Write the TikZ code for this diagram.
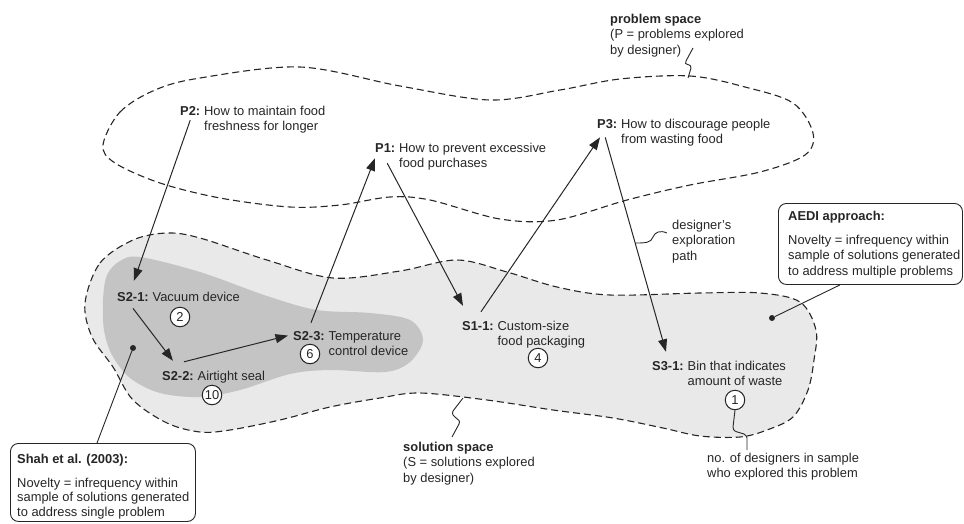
\documentclass[tikz,border=0pt]{standalone}
\usepackage{fontspec}
\setmainfont{Liberation Sans}
\usetikzlibrary{calc,arrows.meta}
\definecolor{lightfill}{RGB}{233,233,233}
\definecolor{darkfill}{RGB}{196,196,196}
\definecolor{ink}{RGB}{38,38,38}
\newcommand\twoln[2]{\begin{tabular}[t]{@{}l@{}}#1\\#2\end{tabular}}
\newcommand\threeln[3]{\begin{tabular}[t]{@{}l@{}}#1\\#2\\#3\end{tabular}}
\begin{document}
\begin{tikzpicture}[x=1pt,y=-1pt,
  lbl/.style={font=\fontsize{12.9}{15.5}\selectfont, text=ink, inner sep=0pt, anchor=base west},
  tagl/.style={lbl, font=\fontsize{12.9}{15.5}\selectfont\bfseries},
  cnt/.style={circle, draw=ink, line width=1pt, fill=white, minimum size=19.5pt, inner sep=0pt, font=\fontsize{12.9}{15.5}\selectfont, text=ink},
  arr/.style={draw=ink, line width=1pt, -{Triangle[length=12.5pt,width=9pt]}},
  lead/.style={draw=ink, line width=0.9pt},
  bound/.style={draw=ink, line width=1.1pt, dash pattern=on 7pt off 4pt},
  dotn/.style={circle, fill=ink, inner sep=0pt, minimum size=6pt},
  box/.style={draw=ink, line width=0.9pt, rounded corners=8pt, fill=white, inner sep=0pt}
]
\useasboundingbox (0,0) rectangle (964,523);

% solution space
\path[fill=lightfill, bound] plot[smooth cycle, tension=0.55] coordinates {
 (85,303) (100,263) (133,240) (167,233) (200,238) (267,260) (333,278) (400,271)
 (457,260) (507,272) (557,287) (610,295) (700,293) (760,293) (800,302) (816,330)
 (814,360) (808,390) (793,417) (767,430) (740,437) (700,436) (663,428) (613,418)
 (553,410) (487,400) (420,393) (380,398) (330,407) (280,420) (230,430) (200,432)
 (167,423) (133,400) (113,367) (92,337)};

% dark region
\fill[darkfill] plot[smooth cycle, tension=0.55] coordinates {
 (103,300) (107,275) (120,261) (140,257) (200,272) (267,296) (317,310) (370,313)
 (410,320) (423,340) (410,362) (385,372) (330,370) (290,374) (240,390) (200,397)
 (160,393) (130,378) (112,355) (104,330)};

% problem space
\draw[bound] plot[smooth cycle, tension=0.55] coordinates {
 (103,145) (120,112) (155,90) (200,78) (300,67) (400,86) (490,100) (560,90)
 (620,79) (690,76) (745,87) (793,103) (813,133) (805,155) (760,172) (690,185)
 (627,200) (557,220) (500,219) (430,200) (390,197) (340,205) (290,207) (220,198)
 (160,183) (115,163)};

% labels: tags
\node[tagl] (P2) at (180,115) {P2:};
\node[lbl] (P2t) at ($(P2.base east)+(3.5,0)$) {\twoln{How to maintain food}{freshness for longer}};
\node[tagl] (P1) at (375,152) {P1:};
\node[lbl] (P1t) at ($(P1.base east)+(3.5,0)$) {\twoln{How to prevent excessive}{food purchases}};
\node[tagl] (P3) at (597,128) {P3:};
\node[lbl] (P3t) at ($(P3.base east)+(3.5,0)$) {\twoln{How to discourage people}{from wasting food}};
\node[tagl] (S21) at (117,301) {S2-1:};
\node[lbl] (S21t) at ($(S21.base east)+(3.5,0)$) {Vacuum device};
\node[tagl] (S22) at (162,380) {S2-2:};
\node[lbl] (S22t) at ($(S22.base east)+(3.5,0)$) {Airtight seal};
\node[tagl] (S23) at (293,340) {S2-3:};
\node[lbl] (S23t) at ($(S23.base east)+(3.5,0)$) {\twoln{Temperature}{control device}};
\node[tagl] (S11) at (462,330) {S1-1:};
\node[lbl] (S11t) at ($(S11.base east)+(3.5,0)$) {\twoln{Custom-size}{food packaging}};
\node[tagl] (S31) at (652,370) {S3-1:};
\node[lbl] (S31t) at ($(S31.base east)+(3.5,0)$) {\twoln{Bin that indicates}{amount of waste}};

% exploration path arrows
\draw[arr] ($(P2.south)+(0,5)$) -- ($(S21.north)+(1,-11)$);
\draw[arr] ($(S21.south)+(0,7)$) -- ($(S22.north)+(-5,-10)$);
\draw[arr] ($(S22.north)+(6,-9)$) -- ($(S23.west)+(-5,0)$);
\draw[arr] ($(S23.north)+(2,-8)$) -- ($(P1.south west)+(0,6)$);
\draw[arr] ($(P1.south)+(2,11)$) -- ($(S11.north west)+(1,-15)$);
\draw[arr] ($(S11.north)+(3,-9)$) -- ($(P3.south west)+(3,9)$);
\draw[arr] ($(P3.south)+(-2,9)$) -- ($(S31.north)+(-2,-9)$);

% counts
\node[cnt] (c2) at (180,317) {2};
\node[cnt] (c10) at (212,395) {10};
\node[cnt] (c6) at (310,354) {6};
\node[cnt] (c4) at (538,358) {4};
\node[cnt] (c1) at (735,400) {1};

% annotation labels
\node[lbl] (ps) at (610,23) {\threeln{\textbf{problem space}}{(P = problems explored}{by designer)}};
\coordinate (psend) at (688,78);
\draw[lead] ($(ps.base west)+(83,25)$) -- (686,61) .. controls (683,66) and (692,63) .. (691,68) -- (psend);

\node[lbl] (dep) at (672,229) {\threeln{designer's}{exploration}{path}};
\coordinate (depend) at (635,243);
\draw[lead] ($(dep.base west)+(-5,4)$) .. controls (660,230) and (655,232) .. (653,237) .. controls (651,243) and (645,243) .. (depend);

\node[lbl] (ss) at (403,451) {\threeln{\textbf{solution space}}{(S = solutions explored}{by designer)}};
\coordinate (ssend) at (463,398);
\draw[lead] ($(ss.base west)+(49,-14)$) -- (459,424) .. controls (462,418) and (450,418) .. (453,411) -- (ssend);

\node[lbl] (nd) at (707,462) {\twoln{no. of designers in sample}{who explored this problem}};
\draw[lead] (c1.south) -- (733,427) .. controls (733,435) and (745,430) .. (747,438) -- ($(nd.base west)+(40,-12)$);

% boxes
\node[box, anchor=north west, minimum width=184pt, minimum height=81pt] (aedi) at (778,203) {};
\node[tagl] (aedit) at (788,220) {AEDI approach:};
\node[lbl] (aedib) at (788,244) {\threeln{Novelty = infrequency within}{sample of solutions generated}{to address multiple problems}};
\node[dotn] (aedidot) at (772,318) {};
\draw[lead] (aedidot) -- ($(aedi.south west)+(62,0)$);

\node[box, anchor=north west, minimum width=185pt, minimum height=78pt] (shah) at (10,443) {};
\node[tagl] (shaht) at (17,463) {Shah et al. (2003):};
\node[lbl, font=\fontsize{12.9}{14.5}\selectfont] (shahb) at (17,487) {\threeln{Novelty = infrequency within}{sample of solutions generated}{to address single problem}};
\node[dotn] (shahdot) at (133,348) {};
\draw[lead] (shahdot) -- ($(shah.north west)+(87,0)$);
\end{tikzpicture}
\end{document}
